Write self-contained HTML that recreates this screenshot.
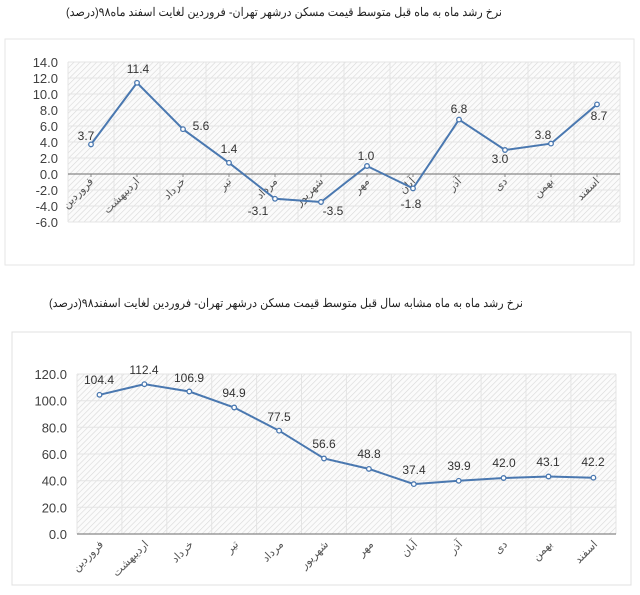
<!DOCTYPE html>
<html><head><meta charset="utf-8"><style>
body{margin:0;background:#fff;}
svg{display:block;font-family:"Liberation Sans","Noto Sans CJK SC",sans-serif;}
</style></head><body>
<svg width="640" height="595" viewBox="0 0 640 595" xmlns="http://www.w3.org/2000/svg">
<defs>
<pattern id="h" width="4" height="4" patternUnits="userSpaceOnUse" patternTransform="rotate(45)">
<rect width="4" height="4" fill="#fbfbfb"/>
<line x1="0" y1="0" x2="0" y2="4" stroke="#d8d8d8" stroke-width="1.2"/>
</pattern>
</defs>
<!-- Chart 1 -->
<text x="66" y="16" font-size="12" textLength="436" lengthAdjust="spacingAndGlyphs" fill="#222">نرخ رشد ماه به ماه قبل متوسط قیمت مسکن درشهر تهران- فروردین لغایت اسفند ماه۹۸(درصد)</text>
<rect x="5" y="39" width="629" height="226" fill="#fff" stroke="#e6e6e6"/>
<rect x="68" y="62" width="552" height="160" fill="url(#h)"/>
<g stroke="#e4e4e4" stroke-width="1">
<line x1="68" y1="62" x2="620" y2="62"/><line x1="68" y1="78" x2="620" y2="78"/><line x1="68" y1="94" x2="620" y2="94"/><line x1="68" y1="110" x2="620" y2="110"/><line x1="68" y1="126" x2="620" y2="126"/><line x1="68" y1="142" x2="620" y2="142"/><line x1="68" y1="158" x2="620" y2="158"/><line x1="68" y1="190" x2="620" y2="190"/><line x1="68" y1="206" x2="620" y2="206"/><line x1="68" y1="222" x2="620" y2="222"/>
<line x1="68" y1="62" x2="68" y2="222"/><line x1="114" y1="62" x2="114" y2="222"/><line x1="160" y1="62" x2="160" y2="222"/><line x1="206" y1="62" x2="206" y2="222"/><line x1="252" y1="62" x2="252" y2="222"/><line x1="298" y1="62" x2="298" y2="222"/><line x1="344" y1="62" x2="344" y2="222"/><line x1="390" y1="62" x2="390" y2="222"/><line x1="436" y1="62" x2="436" y2="222"/><line x1="482" y1="62" x2="482" y2="222"/><line x1="528" y1="62" x2="528" y2="222"/><line x1="574" y1="62" x2="574" y2="222"/><line x1="620" y1="62" x2="620" y2="222"/>
</g>
<line x1="68" y1="174" x2="620" y2="174" stroke="#888" stroke-width="1.3"/>
<g stroke="#888"><line x1="91" y1="174" x2="91" y2="177"/><line x1="137" y1="174" x2="137" y2="177"/><line x1="183" y1="174" x2="183" y2="177"/><line x1="229" y1="174" x2="229" y2="177"/><line x1="275" y1="174" x2="275" y2="177"/><line x1="321" y1="174" x2="321" y2="177"/><line x1="367" y1="174" x2="367" y2="177"/><line x1="413" y1="174" x2="413" y2="177"/><line x1="459" y1="174" x2="459" y2="177"/><line x1="505" y1="174" x2="505" y2="177"/><line x1="551" y1="174" x2="551" y2="177"/><line x1="597" y1="174" x2="597" y2="177"/></g>
<g font-size="13" fill="#404040" text-anchor="end">
<text x="58" y="67">14.0</text><text x="58" y="83">12.0</text><text x="58" y="99">10.0</text><text x="58" y="115">8.0</text><text x="58" y="131">6.0</text><text x="58" y="147">4.0</text><text x="58" y="163">2.0</text><text x="58" y="179">0.0</text><text x="58" y="195">-2.0</text><text x="58" y="211">-4.0</text><text x="58" y="227">-6.0</text>
</g>
<g font-size="11" fill="#555" text-anchor="end">
<text transform="translate(94,182) rotate(-45)">فروردین</text>
<text transform="translate(140,182) rotate(-45)">اردیبهشت</text>
<text transform="translate(186,182) rotate(-45)">خرداد</text>
<text transform="translate(232,182) rotate(-45)">تیر</text>
<text transform="translate(278,182) rotate(-45)">مرداد</text>
<text transform="translate(324,182) rotate(-45)">شهریور</text>
<text transform="translate(370,182) rotate(-45)">مهر</text>
<text transform="translate(416,182) rotate(-45)">آبان</text>
<text transform="translate(462,182) rotate(-45)">آذر</text>
<text transform="translate(508,182) rotate(-45)">دی</text>
<text transform="translate(554,182) rotate(-45)">بهمن</text>
<text transform="translate(600,182) rotate(-45)">اسفند</text>
</g>
<polyline fill="none" stroke="#4a78b0" stroke-width="2" points="91,144.4 137,82.8 183,129.2 229,162.8 275,198.8 321,202 367,166 413,188.4 459,119.6 505,150 551,143.6 597,104.4"/>
<g fill="#fff" stroke="#4a78b0" stroke-width="1.3">
<circle cx="91" cy="144.4" r="2.3"/><circle cx="137" cy="82.8" r="2.3"/><circle cx="183" cy="129.2" r="2.3"/><circle cx="229" cy="162.8" r="2.3"/><circle cx="275" cy="198.8" r="2.3"/><circle cx="321" cy="202" r="2.3"/><circle cx="367" cy="166" r="2.3"/><circle cx="413" cy="188.4" r="2.3"/><circle cx="459" cy="119.6" r="2.3"/><circle cx="505" cy="150" r="2.3"/><circle cx="551" cy="143.6" r="2.3"/><circle cx="597" cy="104.4" r="2.3"/>
</g>
<g font-size="12" fill="#333" text-anchor="middle">
<text x="86" y="140">3.7</text><text x="138" y="73">11.4</text><text x="201" y="130">5.6</text><text x="229" y="153">1.4</text><text x="258" y="215">-3.1</text><text x="333" y="215">-3.5</text><text x="366" y="160">1.0</text><text x="411" y="208">-1.8</text><text x="459" y="113">6.8</text><text x="500" y="163">3.0</text><text x="543" y="139">3.8</text><text x="599" y="120">8.7</text>
</g>

<!-- Chart 2 -->
<text x="49" y="307" font-size="12" textLength="474" lengthAdjust="spacingAndGlyphs" fill="#222">نرخ رشد ماه به ماه مشابه سال قبل متوسط قیمت مسکن درشهر تهران- فروردین لغایت اسفند۹۸(درصد)</text>
<rect x="12" y="332" width="619" height="253" fill="#fff" stroke="#e0e0e0"/>
<rect x="77" y="374" width="539" height="160" fill="url(#h)"/>
<g stroke="#e4e4e4" stroke-width="1">
<line x1="77" y1="374" x2="616" y2="374"/><line x1="77" y1="400.7" x2="616" y2="400.7"/><line x1="77" y1="427.3" x2="616" y2="427.3"/><line x1="77" y1="454" x2="616" y2="454"/><line x1="77" y1="480.7" x2="616" y2="480.7"/><line x1="77" y1="507.3" x2="616" y2="507.3"/>
<line x1="77" y1="374" x2="77" y2="534"/><line x1="121.9" y1="374" x2="121.9" y2="534"/><line x1="166.8" y1="374" x2="166.8" y2="534"/><line x1="211.7" y1="374" x2="211.7" y2="534"/><line x1="256.6" y1="374" x2="256.6" y2="534"/><line x1="301.5" y1="374" x2="301.5" y2="534"/><line x1="346.4" y1="374" x2="346.4" y2="534"/><line x1="391.3" y1="374" x2="391.3" y2="534"/><line x1="436.2" y1="374" x2="436.2" y2="534"/><line x1="481.1" y1="374" x2="481.1" y2="534"/><line x1="526" y1="374" x2="526" y2="534"/><line x1="570.9" y1="374" x2="570.9" y2="534"/><line x1="616" y1="374" x2="616" y2="534"/>
</g>
<line x1="77" y1="534" x2="616" y2="534" stroke="#888" stroke-width="1.3"/>
<g font-size="13" fill="#404040" text-anchor="end">
<text x="67" y="379">120.0</text><text x="67" y="405.7">100.0</text><text x="67" y="432.3">80.0</text><text x="67" y="459">60.0</text><text x="67" y="485.7">40.0</text><text x="67" y="512.3">20.0</text><text x="67" y="539">0.0</text>
</g>
<g font-size="11" fill="#555" text-anchor="end">
<text transform="translate(104,545) rotate(-45)">فروردین</text>
<text transform="translate(149,545) rotate(-45)">اردیبهشت</text>
<text transform="translate(194,545) rotate(-45)">خرداد</text>
<text transform="translate(239,545) rotate(-45)">تیر</text>
<text transform="translate(284,545) rotate(-45)">مرداد</text>
<text transform="translate(329,545) rotate(-45)">شهریور</text>
<text transform="translate(374,545) rotate(-45)">مهر</text>
<text transform="translate(418,545) rotate(-45)">آبان</text>
<text transform="translate(463,545) rotate(-45)">آذر</text>
<text transform="translate(508,545) rotate(-45)">دی</text>
<text transform="translate(553,545) rotate(-45)">بهمن</text>
<text transform="translate(598,545) rotate(-45)">اسفند</text>
</g>
<polyline fill="none" stroke="#4a78b0" stroke-width="2" points="99.5,394.8 144.4,384.2 189.3,391.5 234.2,407.5 279.1,430.7 324,458.5 368.9,468.9 413.8,484.1 458.7,480.8 503.6,478 548.5,476.5 593.4,477.7"/>
<g fill="#fff" stroke="#4a78b0" stroke-width="1.3">
<circle cx="99.5" cy="394.8" r="2.3"/><circle cx="144.4" cy="384.2" r="2.3"/><circle cx="189.3" cy="391.5" r="2.3"/><circle cx="234.2" cy="407.5" r="2.3"/><circle cx="279.1" cy="430.7" r="2.3"/><circle cx="324" cy="458.5" r="2.3"/><circle cx="368.9" cy="468.9" r="2.3"/><circle cx="413.8" cy="484.1" r="2.3"/><circle cx="458.7" cy="480.8" r="2.3"/><circle cx="503.6" cy="478" r="2.3"/><circle cx="548.5" cy="476.5" r="2.3"/><circle cx="593.4" cy="477.7" r="2.3"/>
</g>
<g font-size="12" fill="#333" text-anchor="middle">
<text x="99" y="384">104.4</text><text x="144" y="374">112.4</text><text x="189" y="382">106.9</text><text x="234" y="397">94.9</text><text x="279" y="421">77.5</text><text x="324" y="448">56.6</text><text x="369" y="458">48.8</text><text x="414" y="474">37.4</text><text x="459" y="470">39.9</text><text x="504" y="467">42.0</text><text x="548" y="466">43.1</text><text x="593" y="466">42.2</text>
</g>
</svg>
</body></html>
